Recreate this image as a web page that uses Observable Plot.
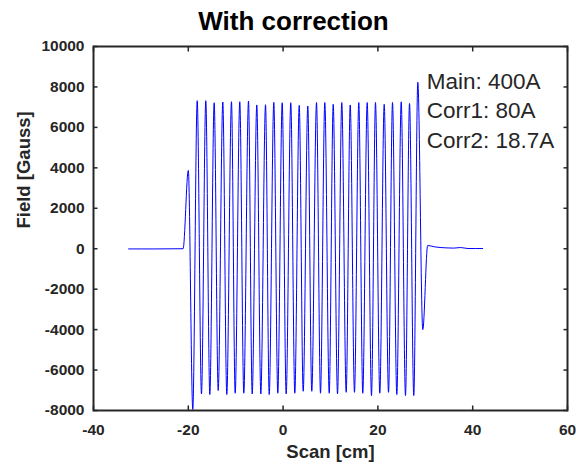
<!DOCTYPE html>
<html><head><meta charset="utf-8">
<script src="https://cdn.jsdelivr.net/npm/d3@7"></script>
<script src="https://cdn.jsdelivr.net/npm/@observablehq/plot@0.6"></script>
<style>body{margin:0;background:#fff} svg{display:block}</style>
</head><body><div id="chart"></div>
<script>
// Scan positions (cm) of the traced turning points of the field curve
const scanCm = [
  -32.6, -27.0, -21.1, -20.0, -19.05,
  -18.12, -17.22, -16.31, -15.46, -14.54, -13.69, -12.72, -11.88, -10.89, -10.11,
  -9.14, -8.29, -7.30, -6.52, -5.55, -4.70, -3.71, -2.93, -1.96, -1.12,
  -0.19, 0.65, 1.62, 2.47, 3.40, 4.24, 5.21, 6.05, 7.05, 7.89,
  8.80, 9.73, 10.57, 11.48, 12.38, 13.31, 14.16, 15.06, 15.97, 16.81,
  17.74, 18.65, 19.49, 20.40, 21.33, 22.24, 23.08, 23.99, 24.92, 25.82,
  26.67, 27.57, 28.42, 29.47,
  30.5, 32.0, 34.6, 36.0, 37.4, 39.0, 42.1
];
// Field values (Gauss) at those positions
const fieldGauss = [
  -10, -10, 0, 3870, -7950,
  7320, -7180, 7320, -7210, 7220, -7013, 7255, -7210, 7270, -7146,
  7270, -7146, 7305, -7180, 7110, -7180, 7120, -7210, 7235, -7146,
  7220, -7180, 7220, -7146, 7090, -7050, 7055, -7050, 7230, -7146,
  7230, -7146, 7140, -7180, 7230, -7100, 7110, -7100, 7230, -7146,
  7230, -7260, 7230, -7146, 7140, -7100, 7230, -7210, 7265, -7260,
  7180, -7260, 8230, -4000,
  160, 90, 40, 30, 60, 10, 10
];
const xTicks = [-40, -20, 0, 20, 40, 60];
const yTicks = [-8000, -6000, -4000, -2000, 0, 2000, 4000, 6000, 8000, 10000];
const titleText = "With correction";
const xLabel = "Scan [cm]";
const yLabel = "Field [Gauss]";
const noteLines = ["Main: 400A", "Corr1: 80A", "Corr2: 18.7A"];
const noteX = 30.3, noteY = 8950;

const data = scanCm.map((x, i) => ({x, y: fieldGauss[i]}));
const ink = "#262626";
const font = "'Liberation Sans', Arial, Helvetica, sans-serif";
const fmt = d => String(d);
const blank = () => "";
const tk = 4.5;

const plot = Plot.plot({
  width: 576, height: 464,
  marginLeft: 93, marginRight: 9, marginTop: 46, marginBottom: 54,
  style: {fontFamily: font, background: "#fff"},
  x: {domain: [-40, 60]},
  y: {domain: [-8000, 10000]},
  marks: [
    Plot.line(data, {x: "x", y: "y", stroke: "#0000ff", strokeWidth: 1, curve: "monotone-x"}),
    Plot.frame({stroke: ink, strokeWidth: 2}),
    // inward tick marks on all four sides
    Plot.axisX(xTicks, {anchor: "bottom", tickSize: tk, dy: -tk, tickFormat: blank, label: null, stroke: ink, strokeWidth: 1.5}),
    Plot.axisX(xTicks, {anchor: "top", tickSize: tk, dy: tk, tickFormat: blank, label: null, stroke: ink, strokeWidth: 1.5}),
    Plot.axisY(yTicks, {anchor: "left", tickSize: tk, dx: tk, tickFormat: blank, label: null, stroke: ink, strokeWidth: 1.5}),
    Plot.axisY(yTicks, {anchor: "right", tickSize: tk, dx: -tk, tickFormat: blank, label: null, stroke: ink, strokeWidth: 1.5}),
    // tick labels
    Plot.axisX(xTicks, {anchor: "bottom", tickSize: 0, tickPadding: 13.5, tickFormat: fmt, label: null, fill: ink, fontSize: 15.5, fontWeight: "bold"}),
    Plot.axisY(yTicks, {anchor: "left", tickSize: 0, tickPadding: 9, tickFormat: fmt, label: null, fill: ink, fontSize: 15.5, fontWeight: "bold"}),
    Plot.text([titleText], {text: d => d, frameAnchor: "top", dx: -37, dy: -17, lineAnchor: "bottom", fontSize: 26, fontWeight: "bold", fill: "#000"}),
    Plot.text([xLabel], {text: d => d, frameAnchor: "bottom", dy: 47, lineAnchor: "bottom", fontSize: 18.5, fontWeight: "bold", fill: ink}),
    Plot.text([yLabel], {text: d => d, frameAnchor: "left", dx: -69, rotate: -90, lineAnchor: "middle", fontSize: 18.5, fontWeight: "bold", fill: ink}),
    Plot.text([noteLines.join("\n")], {text: d => d, x: noteX, y: noteY, textAnchor: "start", lineAnchor: "top", lineHeight: 1.31, fontSize: 22.5, fill: ink})
  ]
});
document.getElementById("chart").appendChild(plot);
</script>
</body></html>
